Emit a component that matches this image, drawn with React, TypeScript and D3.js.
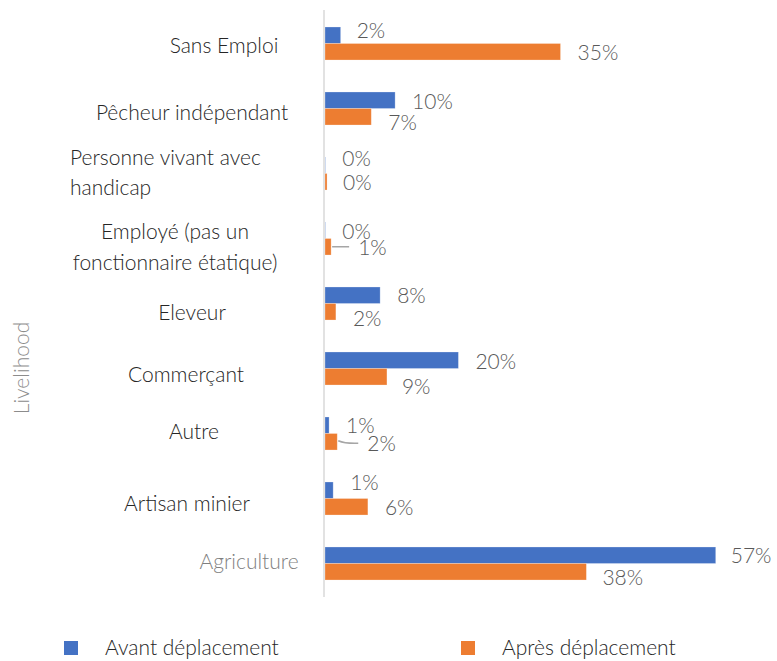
import React from "react";
import * as d3 from "d3";

const categories = [
  "Sans Emploi",
  "Pêcheur indépendant",
  "Personne vivant avec handicap",
  "Employé (pas un fonctionnaire étatique)",
  "Eleveur",
  "Commerçant",
  "Autre",
  "Artisan minier",
  "Agriculture",
];
const categoryLines = [
  ["Sans Emploi"],
  ["Pêcheur indépendant"],
  ["Personne vivant avec", "handicap"],
  ["Employé (pas un", "fonctionnaire étatique)"],
  ["Eleveur"],
  ["Commerçant"],
  ["Autre"],
  ["Artisan minier"],
  ["Agriculture"],
];
const seriesNames = ["Avant déplacement", "Après déplacement"];
const avant = [2.3, 10.3, 0.05, 0.05, 8.1, 19.6, 0.6, 1.2, 57.4];
const apres = [34.6, 6.8, 0.3, 0.9, 1.6, 9.1, 1.8, 6.3, 38.4];
const axisTitle = "Livelihood";

// layout tweaks (label placement as in the reference)
const labelCenterX = [224, 192, 70, 175, 192, 186, 194, 187, 249];
const labelAnchor = ["middle", "middle", "start", "middle", "middle", "middle", "middle", "middle", "middle"];
const labelBaseline = [[9], [11.5], [-8.5, 21.5], [0.5, 31.5], [16.5], [13.5], [5.5], [12.5], [5.5]];
const avantDx = [16, 17, 17, 17, 17, 17, 17, 17, 15];
const avantDy = [-5, 1, -7, 1, 0, 1, 0, -8, 0];
const apresDx = [17, 17, 16, 27, 17, 15, 30, 17, 16];
const apresDy = [1, 6, 1, 1, 7, 10, 2, 1, 6];

const colors = ["#4472C4", "#ED7D31"];
const FONT = "Lato, 'Gill Sans', sans-serif";

export default function App() {
  const W = 777, H = 661;
  const y0 = d3.scaleBand<string>().domain(categories).range([11, 596]).paddingInner(0);
  const bw = y0.bandwidth();
  const groupH = bw * 0.508;
  const y1 = d3.scaleBand<string>().domain(seriesNames).range([0, groupH]);
  const x = d3.scaleLinear().domain([0, 60]).range([325, 325 + 60 * 6.807]);
  const values = [avant, apres];
  const dxs = [avantDx, apresDx];
  const dys = [avantDy, apresDy];

  return (
    <svg width={W} height={H} style={{ position: "absolute", left: 0, top: 0, background: "#fff" }}
      fontFamily={FONT} fontWeight={300}>
      <rect x={0} y={0} width={W} height={H} fill="#fff" />
      {/* category labels */}
      {categories.map((c, i) => {
        const cy = (y0(c) as number) + bw / 2;
        return (
          <text key={c} x={labelCenterX[i]} textAnchor={labelAnchor[i] as any} fontSize={21}
            fill={i === categories.length - 1 ? "#7f7f7f" : "#262626"}>
            {categoryLines[i].map((ln, j) => (
              <tspan key={j} x={labelCenterX[i]} y={cy + labelBaseline[i][j]}>{ln}</tspan>
            ))}
          </text>
        );
      })}
      {/* axis title */}
      <text transform={`translate(29,368) rotate(-90)`} textAnchor="middle" fontSize={21} fill="#8c8c8c">
        {axisTitle}
      </text>
      {/* bars */}
      {values.map((vals, s) =>
        vals.map((v, i) => {
          const yy = (y0(categories[i]) as number) + (bw - groupH) / 2 + (y1(seriesNames[s]) as number);
          return (
            <rect key={`b${s}-${i}`} x={x(0)} y={yy} width={Math.max(0, x(v) - x(0))}
              height={y1.bandwidth()} fill={colors[s]} stroke="#ffffff" strokeOpacity={0.35} strokeWidth={0.75} />
          );
        })
      )}
      {/* axis line */}
      <line x1={324} x2={324} y1={10} y2={597} stroke="#d9d9d9" strokeWidth={1.5} />
      {/* leader lines */}
      {(() => {
        const i = 3;
        const yy = (y0(categories[i]) as number) + (bw - groupH) / 2 + (y1(seriesNames[1]) as number) + y1.bandwidth() / 2;
        return <line x1={x(apres[i]) + 1} x2={x(apres[i]) + apresDx[i] - 9} y1={yy} y2={yy} stroke="#a6a6a6" strokeWidth={1.5} />;
      })()}
      {(() => {
        const i = 6;
        const yy = (y0(categories[i]) as number) + (bw - groupH) / 2 + (y1(seriesNames[1]) as number) + y1.bandwidth() / 2;
        return <path d={`M${x(apres[i]) + 1},${yy - 1} Q${x(apres[i]) + 8},${yy + 2} ${x(apres[i]) + apresDx[i] - 9},${yy + 1.5}`}
          fill="none" stroke="#a6a6a6" strokeWidth={1.5} />;
      })()}
      {/* data labels */}
      {values.map((vals, s) =>
        vals.map((v, i) => {
          const cy = (y0(categories[i]) as number) + (bw - groupH) / 2 + (y1(seriesNames[s]) as number) + y1.bandwidth() / 2;
          return (
            <text key={`l${s}-${i}`} x={x(v) + dxs[s][i]} y={cy + dys[s][i] + 7.5} fontSize={21} fill="#595959">
              {`${Math.round(v)}%`}
            </text>
          );
        })
      )}
      {/* legend */}
      {seriesNames.map((n, s) => {
        const lx = s === 0 ? 64 : 461;
        return (
          <g key={n}>
            <rect x={lx} y={641} width={14} height={14} fill={colors[s]} />
            <text x={lx + 41} y={655} fontSize={21} fill="#262626">{n}</text>
          </g>
        );
      })}
    </svg>
  );
}
